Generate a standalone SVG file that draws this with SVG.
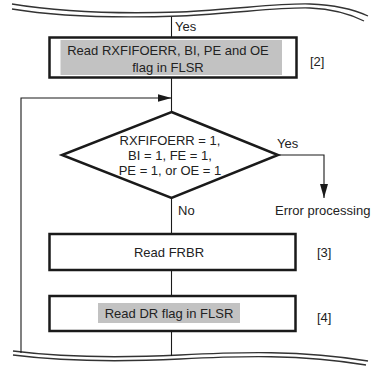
<svg xmlns="http://www.w3.org/2000/svg" width="386" height="366" viewBox="0 0 386 366">
<defs>
<marker id="arr" markerWidth="14" markerHeight="8" refX="14" refY="4" orient="auto" markerUnits="userSpaceOnUse">
<path d="M0,0 L14,4 L0,8 Z" fill="#1a1a1a"/>
</marker>
</defs>
<style>
.box{fill:#fff;stroke:#1a1a1a;stroke-width:2.5}
.hl{fill:#c2c2c2}
.ln{fill:none;stroke:#1a1a1a;stroke-width:1.1}
.wv{fill:none;stroke:#333;stroke-width:1.3}
text{font-family:"Liberation Sans",Arial,sans-serif;font-size:13px;fill:#222}
.c{text-anchor:middle}
</style>
<g id="breaks">
<path class="wv" d="M12,4 C60,12 120,14 180,12 C240,9 280,3 310,4 C335,5 355,10 368,16"/>
<path class="wv" d="M12,9 C60,17 120,18 180,16 C240,13 280,7 310,8 C333,9 350,14 364,21"/>
<path class="wv" d="M13,351 C60,357 120,358 180,355 C240,352 300,350 368,361"/>
<path class="wv" d="M13,355 C60,361 120,362 180,359 C240,356 300,354 366,365"/>
</g>
<g id="connectors">
<path class="ln" d="M171.5,17 V37"/>
<path class="ln" d="M171.5,78 V112"/>
<path class="ln" d="M21,353 V98 H171.5" marker-end="url(#arr)"/>
<path class="ln" d="M278,155 H324 V198" marker-end="url(#arr)"/>
<path class="ln" d="M171.5,198 V234"/>
<path class="ln" d="M171.5,270 V296"/>
<path class="ln" d="M171.5,331 V356"/>
</g>
<g id="labels">
<text x="175" y="31">Yes</text>
<text x="277" y="148">Yes</text>
<text x="178" y="215">No</text>
<text x="275" y="215">Error processing</text>
</g>
<g id="n2">
<rect class="box" x="49.5" y="37.5" width="247" height="40"/>
<rect class="hl" x="60.5" y="40" width="221.5" height="35"/>
<text class="c" x="168" y="55">Read RXFIFOERR, BI, PE and OE</text>
<text class="c" x="168" y="72">flag in FLSR</text>
<text x="310" y="66">[2]</text>
</g>
<g id="decision">
<polygon points="171.5,112 278,155 171.5,198 62,155" fill="#fff" stroke="#1a1a1a" stroke-width="2.5" stroke-linejoin="miter"/>
<text class="c" x="170" y="145">RXFIFOERR = 1,</text>
<text class="c" x="170" y="160">BI = 1, FE = 1,</text>
<text class="c" x="170" y="175">PE = 1, or OE = 1</text>
</g>
<g id="n3">
<rect class="box" x="49.5" y="234" width="246" height="36"/>
<text class="c" x="169" y="257">Read FRBR</text>
<text x="317" y="257">[3]</text>
</g>
<g id="n4">
<rect class="box" x="49.5" y="296" width="246" height="35"/>
<rect class="hl" x="98" y="303" width="142" height="20"/>
<text class="c" x="169" y="318">Read DR flag in FLSR</text>
<text x="317" y="322">[4]</text>
</g>
</svg>
